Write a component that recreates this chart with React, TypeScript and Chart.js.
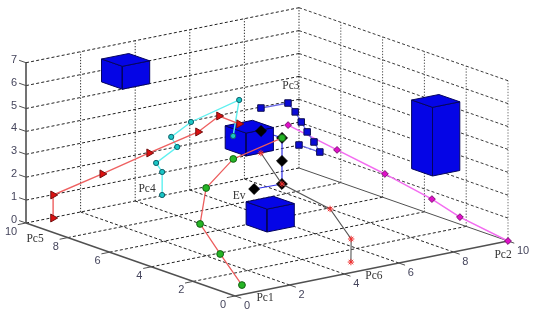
import React, { useEffect, useRef } from "react";
import { Chart, registerables } from "chart.js";

Chart.register(...registerables);

// Axis ticks
const pcTicks = [0, 2, 4, 6, 8, 10];
const heightTicks = [0, 1, 2, 3, 4, 5, 6, 7];

// Series values, as [Pc-right, Pc-left, height]
const pc1Values = [[0.89, 0.83, 0], [2.45, 3.91, 0], [3.98, 6.87, 0], [4.99, 7.9, 1], [6.03, 7.96, 2], [8.56, 8.93, 2]];
const pc2Values = [[10, 0, 0], [10, 2.3, 0.31], [10, 3.64, 0.67], [10, 5.89, 1.05], [10, 8.18, 1.37], [9.6, 10, 1.97]];
const pc3Values = [[5.49, 5.93, 5], [6.45, 5.89, 5], [6.79, 5.99, 4.5], [7.02, 6, 4], [7.26, 6.03, 3.5], [7.51, 6.03, 3], [7.74, 6.05, 2.5], [6.96, 6.03, 3]];
const pc4Values = [[3.5, 8.06, 1], [3.51, 8.07, 2], [3.97, 8.96, 2], [4, 7.99, 3], [4.53, 8.97, 3], [4.46, 7.93, 4], [5.52, 7.01, 5], [4.51, 5.98, 4]];
const pc5Values = [[0.96, 9.96, 0], [0.97, 9.97, 1], [1.99, 8.95, 2], [2.95, 7.96, 3], [3.96, 6.94, 4], [5.51, 7.96, 4], [5.45, 6.92, 4]];
const pc6Values = [[8.59, 9.98, 1], [8.54, 8.91, 0], [8, 5.9, 0], [6.49, 2.92, 0], [4.95, 0.92, 0]];
const evValues = [[7.56, 8.96, 0], [8.54, 8.91, 0], [8.55, 8.92, 1], [8.56, 8.93, 2], [7.01, 7.91, 3]];

// Boxes, as [Pc-right, Pc-left, bottom, top]
const boxValues = [[2, 8, 6, 7], [5, 6, 3, 4], [5, 5, 0, 1], [8, 1, 3, 6]];

const seriesNames = ["Pc1", "Pc2", "Pc3", "Pc4", "Pc5", "Pc6", "Ev"];

// View transform from chart values to the two hidden scales
const view = ([a, b, z]: number[]) => ({
  x: 27.3 * a - 20.9 * b,
  y: 5.5 * a + 7.3 * b + 22.9 * z,
});

const seg = (p: number[], q: number[]) => [view(p), view(q)];

const App = () => {
  const ref = useRef<HTMLCanvasElement>(null);

  useEffect(() => {
    document.body.style.margin = "0";
    const painted: any[] = [];

    const line = (data: any[], color: string, width: number, dash: number[] = []) =>
      painted.push({
        data,
        showLine: true,
        borderColor: color,
        borderWidth: width,
        borderDash: dash,
        pointRadius: 0,
        fill: false,
        tension: 0,
      });

    // Grid
    const dashColor = "#222222";
    const dash = [3, 2.2];
    const dots = [1.3, 1.6];
    pcTicks.slice(1, 5).forEach((t) => {
      line(seg([t, 0, 0], [t, 10, 0]), dashColor, 1, dash);
      line(seg([0, t, 0], [10, t, 0]), dashColor, 1, dash);
      line(seg([t, 10, 0], [t, 10, 7]), "#303030", 1, dots);
      line(seg([10, t, 0], [10, t, 7]), "#505050", 1, dots);
    });
    line(seg([10, 10, 0], [10, 10, 7]), "#303030", 1, dots);
    line(seg([10, 0, 0], [10, 0, 7]), "#707070", 1, dots);
    heightTicks.forEach((h) => {
      line(seg([0, 10, h], [10, 10, h]), dashColor, 1, dash);
      if (h > 0) line(seg([10, 10, h], [10, 0, h]), "#3a3a3a", 1, dash);
    });

    // Axes and tick marks
    const axisColor = "#505050";
    line(seg([10, 10, 0], [10, 0, 0]), "#505050", 1, []);
    line(seg([0, 0, 0], [10, 0, 0]), axisColor, 1.4);
    line(seg([0, 0, 0], [0, 10, 0]), axisColor, 1.4);
    line(seg([0, 10, 0], [0, 10, 7]), axisColor, 1.6);
    pcTicks.forEach((t) => {
      line(seg([t, 0, 0], [t, -0.3, 0]), axisColor, 1);
      line(seg([0, t, 0], [-0.3, t, 0]), axisColor, 1);
    });
    heightTicks.forEach((h) => line(seg([0, 10, h], [0, 10.33, h]), axisColor, 1));

    const series = (
      values: number[][],
      lineColor: string,
      lineWidth: number,
      style: string,
      radius: number,
      fillColor: string,
      edge: string,
      rotation = 0,
      edgeWidth = 1,
    ) =>
      painted.push({
        data: values.map(view),
        showLine: true,
        borderColor: lineColor,
        borderWidth: lineWidth,
        pointStyle: style,
        pointRadius: radius,
        pointRotation: rotation,
        pointBackgroundColor: fillColor,
        pointBorderColor: edge,
        pointBorderWidth: edgeWidth,
        fill: false,
        tension: 0,
      });

    // The Ev line runs behind the middle box; its markers are painted later
    line(evValues.map(view), "#3030e8", 1.2);

    // Boxes
    const boxFill = "#0505e6";
    const boxEdge = "#05055e";
    boxValues.forEach(([a, b, z0, z1]) => {
      const faces = [
        [[a, b, z0], [a, b + 1, z0], [a, b + 1, z1], [a, b, z1], [a, b, z0]],
        [[a, b, z0], [a + 1, b, z0], [a + 1, b, z1], [a, b, z1], [a, b, z0]],
        [[a, b, z1], [a + 1, b, z1], [a + 1, b + 1, z1], [a, b + 1, z1], [a, b, z1]],
      ];
      faces.forEach((f) =>
        painted.push({
          data: f.map(view),
          showLine: true,
          borderColor: boxEdge,
          borderWidth: 1,
          backgroundColor: boxFill,
          pointRadius: 0,
          fill: "shape",
          tension: 0,
        }),
      );
    });

    series(pc2Values, "#f36cf0", 1.5, "rectRot", 3.4, "#e00fc8", "#7a1070");
    series(pc3Values, "#6a6ae8", 1.3, "rect", 4.6, "#0a0ad8", "#101050");
    series(pc4Values, "#5ff0f0", 1.4, "circle", 2.6, "#19c6c6", "#0e5f68");
    series(pc5Values, "#ee6060", 1.4, "triangle", 4.6, "#dd1010", "#701010", 90);
    painted.push({
      data: evValues.map(view),
      showLine: false,
      pointStyle: "rectRot",
      pointRadius: 5.4,
      pointBackgroundColor: "#000000",
      pointBorderColor: "#000000",
      pointBorderWidth: 1,
    });
    series(pc6Values, "#555555", 1.1, "star", 3.2, "#ff2020", "#f03030");
    series(pc1Values, "#ec5d5d", 1.3, "circle", 3.4, "#25b525", "#146014");

    const textPlugin = {
      id: "axisText",
      afterDatasetsDraw(chart: any) {
        const { ctx, scales } = chart;
        const put = (v: { x: number; y: number }, dx: number, dy: number, s: string) =>
          ctx.fillText(s, scales.x.getPixelForValue(v.x) + dx, scales.y.getPixelForValue(v.y) + dy);
        ctx.save();
        ctx.textAlign = "center";
        ctx.textBaseline = "middle";
        ctx.fillStyle = "#45455c";
        ctx.font = "11px 'Liberation Sans'";
        heightTicks.forEach((h) => put(view([0, 10, h]), -12, -3, String(h)));
        pcTicks.forEach((t) => {
          put(view([0, t, 0]), t === 10 ? -15 : -12, 9, String(t));
          put(view([t, 0, 0]), t === 10 ? 15 : 12, 10, String(t));
        });
        ctx.fillStyle = "#333333";
        ctx.font = "11.5px 'Liberation Serif'";
        const anchors = [
          [[0, 0, 0], 30, 2],
          [[10, 0, 0], -5, 14],
          [[6.45, 5.89, 5], 3, -17],
          [[3.5, 8.06, 1], -15, -6],
          [[0, 10, 0], 9, 16],
          [[4.95, 0.92, 0], 23, 14],
          [[7.56, 8.96, 0], -15, 7],
        ] as const;
        seriesNames.forEach((name, i) =>
          put(view(anchors[i][0] as unknown as number[]), anchors[i][1], anchors[i][2], name),
        );
        ctx.restore();
      },
    };

    const chart = new Chart(ref.current as HTMLCanvasElement, {
      type: "scatter",
      data: { datasets: painted.slice().reverse() },
      options: {
        animation: false,
        responsive: false,
        layout: { padding: 0, autoPadding: false },
        scales: {
          x: { type: "linear", display: false, min: -235, max: 304 },
          y: { type: "linear", display: false, min: -19, max: 296 },
        },
        plugins: { legend: { display: false }, tooltip: { enabled: false } },
      },
      plugins: [textPlugin],
    } as any);
    return () => chart.destroy();
  }, []);

  return (
    <canvas
      ref={ref}
      width={539}
      height={315}
      style={{ display: "block", width: 539, height: 315, filter: "blur(0.4px)" }}
    />
  );
};

export default App;
